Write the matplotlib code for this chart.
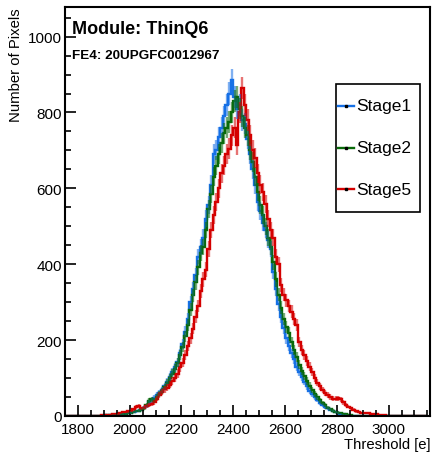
import numpy as np
import matplotlib.pyplot as plt
from matplotlib.lines import Line2D
from matplotlib.patches import Rectangle
from matplotlib.ticker import MultipleLocator

plt.rcParams['font.family'] = ['Liberation Sans', 'DejaVu Sans']

# --- histogram data, 10 e bins from 1750 to 3150 ---
x_lo, x_hi, bin_w = 1750, 3150, 10

stage1_start = 1850
stage1 = [0, 1, 0, 1, 1, 2, 1, 2, 3, 3, 4, 5, 5, 6, 8, 9, 11, 12, 14, 18,
          22, 26, 36, 42, 48, 55, 60, 68, 78, 90, 102, 116, 128, 142, 165, 190, 222, 255, 300, 335,
          372, 420, 445, 470, 520, 555, 610, 690, 700, 735, 760, 790, 820, 850, 885, 840, 810, 820, 780, 770,
          730, 690, 650, 610, 565, 540, 510, 490, 465, 440, 380, 335, 295, 260, 232, 205, 185, 165, 150, 130,
          115, 102, 90, 78, 66, 57, 50, 43, 35, 28, 24, 20, 16, 13, 10, 8, 6, 4, 3, 2,
          1, 1, 0]

stage2_start = 1860
stage2 = [0, 1, 1, 1, 1, 2, 2, 3, 3, 4, 5, 6, 6, 8, 9, 10, 13, 14, 17, 20,
          28, 40, 44, 42, 50, 58, 66, 76, 88, 100, 112, 125, 140, 160, 182, 210, 240, 280, 318, 352,
          392, 430, 445, 490, 545, 585, 630, 660, 690, 720, 745, 760, 775, 800, 830, 840, 810, 790, 760, 740,
          700, 670, 630, 590, 555, 530, 500, 470, 445, 405, 360, 320, 285, 255, 235, 220, 195, 175, 155, 135,
          118, 105, 92, 80, 68, 58, 50, 42, 34, 28, 22, 18, 14, 11, 9, 7, 5, 4, 3, 2,
          1, 1, 0]

stage5_start = 1850
stage5 = [0, 1, 1, 1, 2, 2, 2, 3, 4, 5, 6, 8, 10, 11, 12, 14, 18, 24, 26, 20,
          22, 26, 30, 32, 36, 45, 55, 62, 70, 75, 82, 92, 100, 112, 128, 140, 160, 185, 205, 230,
          262, 290, 330, 360, 385, 440, 490, 530, 565, 600, 640, 660, 690, 705, 740, 760, 715, 800, 865, 820,
          780, 740, 700, 680, 640, 610, 590, 560, 520, 490, 470, 420, 400, 345, 320, 305, 290, 275, 255, 240,
          195, 175, 160, 145, 130, 115, 100, 88, 78, 68, 60, 55, 50, 46, 45, 47, 44, 36, 30, 25,
          20, 16, 12, 10, 8, 8, 7, 8, 6, 5, 4, 3, 2, 2, 1, 1, 0]

labels = ['Stage1', 'Stage2', 'Stage5']
colors = ['#1670e6', '#0a6a0a', '#d40000']

W, H = 432, 456


def full_hist(values, start):
    edges = np.arange(x_lo, x_hi + bin_w, bin_w)
    counts = np.zeros(len(edges) - 1)
    i0 = (start - x_lo) // bin_w
    counts[i0:i0 + len(values)] = values
    return edges, counts


def fx(px):
    return px / W


def fy(py):
    return 1 - py / H


fig = plt.figure(figsize=(W / 100, H / 100), dpi=100)
ax = fig.add_axes([fx(65), fy(417), 365 / W, 409 / H])

series = [(stage1, stage1_start), (stage2, stage2_start), (stage5, stage5_start)]
for (vals, start), col in zip(series, colors):
    edges, counts = full_hist(vals, start)
    centers = 0.5 * (edges[:-1] + edges[1:])
    err = np.sqrt(counts)
    ax.vlines(centers, counts - err, counts + err, color=col, lw=1.7, alpha=0.55)
    ax.stairs(counts, edges, color=col, lw=1.7)

ax.set_xlim(x_lo, 3160)
ax.set_ylim(0, 1078)

ax.xaxis.set_major_locator(MultipleLocator(200))
ax.xaxis.set_minor_locator(MultipleLocator(50))
ax.yaxis.set_major_locator(MultipleLocator(200))
ax.yaxis.set_minor_locator(MultipleLocator(50))
ax.tick_params(which='both', direction='in', top=False, right=False, labelsize=11, width=1.2)
ax.tick_params(which='major', length=8)
ax.tick_params(which='minor', length=4)
ax.tick_params(axis='x', pad=4)
ax.tick_params(axis='y', pad=2)
for s in ax.spines.values():
    s.set_linewidth(1.5)

ax.set_xlabel('Threshold [e]', fontsize=10.7, loc='right', labelpad=1)
ax.set_ylabel('Number of Pixels', fontsize=10.7, loc='top', labelpad=4)

fig.text(fx(72), fy(30), 'Module: ThinQ6', fontsize=13, fontweight='bold',
         va='center', ha='left')
fig.text(fx(72), fy(56), 'FE4: 20UPGFC0012967', fontsize=9.7, fontweight='bold',
         va='center', ha='left')

# legend drawn by hand to get the ROOT-like box proportions
fig.patches.append(Rectangle((fx(336), fy(213)), 84 / W, 128 / H, transform=fig.transFigure,
                             facecolor='white', edgecolor='black', lw=1.2, zorder=5))
for k, (lab, col) in enumerate(zip(labels, colors)):
    yy = fy(107 + 41.5 * k)
    fig.lines.append(Line2D([fx(338), fx(354)], [yy, yy], transform=fig.transFigure,
                            color=col, lw=1.7, zorder=6))
    fig.lines.append(Line2D([fx(346)], [yy], transform=fig.transFigure, marker='s',
                            markersize=1.5, color='black', zorder=7))
    fig.text(fx(356), yy, lab, fontsize=12.5, va='center', ha='left', zorder=7)

fig.savefig('out.png', dpi=100)
